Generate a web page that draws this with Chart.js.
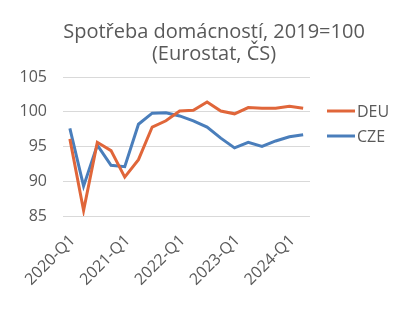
<!DOCTYPE html>
<html>
<head>
<meta charset="utf-8">
<script src="https://cdn.jsdelivr.net/npm/chart.js@4"></script>
<style>
  html, body { margin: 0; padding: 0; background: #fff; }
  #wrap { width: 412px; height: 325px; position: relative; }
</style>
</head>
<body>
<div id="wrap"><canvas id="chart"></canvas></div>
<script>
const quarters = [
  "2020-Q1", "2020-Q2", "2020-Q3", "2020-Q4",
  "2021-Q1", "2021-Q2", "2021-Q3", "2021-Q4",
  "2022-Q1", "2022-Q2", "2022-Q3", "2022-Q4",
  "2023-Q1", "2023-Q2", "2023-Q3", "2023-Q4",
  "2024-Q1", "2024-Q2"
];
const deu = [96.1, 85.8, 95.6, 94.4, 90.6, 93.1, 97.8, 98.7, 100.1, 100.2, 101.4, 100.1, 99.7, 100.6, 100.5, 100.5, 100.8, 100.5];
const cze = [97.6, 89.3, 95.2, 92.3, 92.1, 98.2, 99.8, 99.85, 99.4, 98.7, 97.8, 96.2, 94.8, 95.6, 95.0, 95.8, 96.4, 96.7];
const yTicks = [85, 90, 95, 100, 105];

const textColor = "#595959";
const fontFamily = "'Open Sans', sans-serif";

// legend drawn next to the plot, like the Excel original
const sideLegend = {
  id: "sideLegend",
  afterDraw(chart) {
    const { ctx, chartArea } = chart;
    ctx.save();
    ctx.font = "16px " + fontFamily;
    ctx.textBaseline = "middle";
    chart.data.datasets.forEach((ds, i) => {
      const y = chartArea.top + 34 + i * 25;
      const x = chartArea.right + 17;
      ctx.strokeStyle = ds.borderColor;
      ctx.lineWidth = 3;
      ctx.beginPath();
      ctx.moveTo(x, y);
      ctx.lineTo(x + 28, y);
      ctx.stroke();
      ctx.fillStyle = textColor;
      ctx.fillText(ds.label, x + 30, y + 1);
    });
    ctx.restore();
  }
};

new Chart(document.getElementById("chart"), {
  type: "line",
  data: {
    labels: quarters,
    datasets: [
      { label: "DEU", data: deu, borderColor: "#E0663A", borderWidth: 3, pointRadius: 0, tension: 0 },
      { label: "CZE", data: cze, borderColor: "#4A7EBB", borderWidth: 3, pointRadius: 0, tension: 0 }
    ]
  },
  options: {
    responsive: true,
    maintainAspectRatio: false,
    animation: false,
    layout: { padding: { left: 16, right: 0, top: 0, bottom: 0 } },
    plugins: {
      legend: { display: false },
      tooltip: { enabled: false },
      title: {
        display: true,
        text: ["Spotřeba domácností, 2019=100", "(Eurostat, ČS)"],
        color: textColor,
        font: { family: fontFamily, size: 20, weight: "normal", lineHeight: 1.1 },
        padding: { top: 21, bottom: 12 }
      }
    },
    scales: {
      x: {
        offset: true,
        grid: { display: false },
        border: { display: false },
        afterFit(scale) { scale.height = 109; },
        ticks: {
          autoSkip: false,
          maxRotation: 45,
          minRotation: 45,
          padding: 7,
          labelOffset: 3,
          color: textColor,
          font: { family: fontFamily, size: 16 },
          callback(value, index) {
            return index % 4 === 0 ? quarters[index] : "";
          }
        }
      },
      y: {
        min: yTicks[0],
        max: yTicks[yTicks.length - 1],
        afterBuildTicks(scale) { scale.ticks = yTicks.map(v => ({ value: v })); },
        afterFit(scale) { scale.width = 47; },
        grid: { color: "#D9D9D9", lineWidth: 1, drawTicks: false },
        border: { display: false },
        ticks: {
          color: textColor,
          padding: 16,
          font: { family: fontFamily, size: 16 }
        }
      },
      // empty axis on the right only reserves room for the legend
      side: {
        position: "right",
        display: true,
        grid: { display: false },
        border: { display: false },
        ticks: { display: false },
        afterFit(scale) { scale.width = 102; }
      }
    }
  },
  plugins: [sideLegend]
});
</script>
</body>
</html>
